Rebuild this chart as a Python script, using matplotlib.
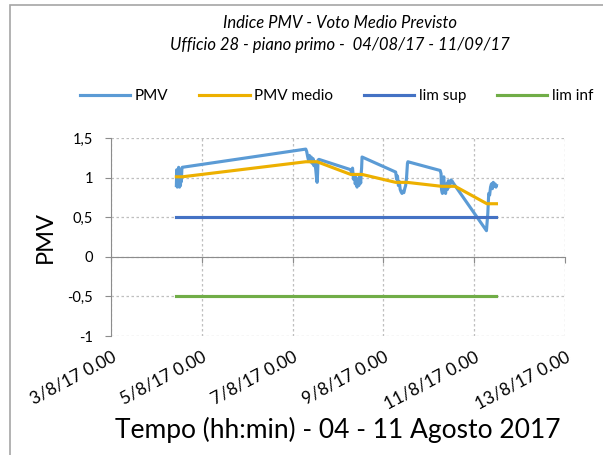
import numpy as np
import pandas as pd
import matplotlib
matplotlib.use('Agg')
import matplotlib.pyplot as plt
import matplotlib.dates as mdates
from matplotlib.ticker import FuncFormatter
from matplotlib.patches import Rectangle

plt.rcParams['font.family'] = ['Lato', 'DejaVu Sans']

base = pd.Timestamp('2017-08-03 00:00')

# PMV misurato (giorni dal 3/8/17 0.00, valore)
pmv_days = [1.44, 1.45, 1.46, 1.47, 1.48, 1.49, 1.50, 1.51, 1.52, 1.53, 1.54, 1.55, 1.56, 1.57,
            4.29, 4.31, 4.33, 4.35, 4.37, 4.39, 4.41, 4.43, 4.45, 4.47, 4.49, 4.51, 4.53, 4.54, 4.55, 4.56, 4.58,
            5.28, 5.30, 5.32, 5.34, 5.36, 5.38, 5.40, 5.42, 5.44, 5.46, 5.48, 5.50, 5.51, 5.52, 5.53,
            6.27, 6.29, 6.31, 6.33, 6.35, 6.37, 6.39, 6.41, 6.43, 6.45, 6.47, 6.49, 6.51, 6.53, 6.54,
            7.25, 7.27, 7.28, 7.30, 7.31, 7.33, 7.35, 7.37, 7.39, 7.41, 7.43, 7.45, 7.47, 7.49, 7.52, 7.54,
            8.27, 8.30, 8.32, 8.34, 8.36, 8.38, 8.40, 8.42, 8.44, 8.46, 8.48, 8.49]
pmv_vals = [0.90, 1.10, 0.88, 1.05, 0.92, 1.13, 0.95, 0.88, 1.02, 0.90, 1.08, 0.95, 1.10, 1.13,
            1.36, 1.33, 1.27, 1.22, 1.28, 1.20, 1.26, 1.18, 1.24, 1.15, 1.20, 1.10, 0.98, 0.94, 1.05, 1.22, 1.23,
            1.10, 1.05, 1.12, 0.98, 1.04, 0.92, 1.00, 0.88, 0.97, 0.90, 1.02, 0.93, 1.05, 1.12, 1.26,
            1.07, 0.98, 1.02, 0.90, 0.95, 0.85, 0.82, 0.80, 0.83, 0.81, 0.86, 0.90, 1.00, 1.18, 1.20,
            1.09, 1.05, 0.85, 0.80, 0.95, 1.01, 0.82, 0.80, 0.92, 0.85, 0.96, 0.88, 0.92, 0.97, 0.95, 0.93,
            0.33, 0.55, 0.80, 0.78, 0.88, 0.92, 0.86, 0.94, 0.89, 0.92, 0.88, 0.90]

# PMV medio giornaliero
med_days = [1.44, 1.57, 4.29, 4.54, 5.28, 5.53, 6.27, 6.52, 7.28, 7.58, 8.28, 8.49]
med_vals = [1.01, 1.01, 1.20, 1.20, 1.04, 1.04, 0.94, 0.94, 0.89, 0.89, 0.67, 0.67]

lim_days = [1.44, 8.49]
lim_sup = [0.5, 0.5]
lim_inf = [-0.5, -0.5]

to_time = lambda d: [base + pd.Timedelta(days=x) for x in d]

fig = plt.figure(figsize=(6.03, 4.55), dpi=100)
ax = fig.add_axes([111/603, 1 - 336/455, (565-111)/603, (336-138)/455])

ax.plot(to_time(pmv_days), pmv_vals, color='#5B9BD5', lw=2.25, label='PMV')
ax.plot(to_time(med_days), med_vals, color='#EDB000', lw=2.25, label='PMV medio')
ax.plot(to_time(lim_days), lim_sup, color='#4472C4', lw=2.25, label='lim sup')
ax.plot(to_time(lim_days), lim_inf, color='#70AD47', lw=2.25, label='lim inf')

ax.set_ylim(-1, 1.5)
ax.set_yticks([-1, -0.5, 0, 0.5, 1, 1.5])
ax.yaxis.set_major_formatter(FuncFormatter(lambda v, p: ('%g' % v).replace('.', ',')))
xmin = mdates.date2num(base)
xmax = mdates.date2num(base + pd.Timedelta(days=10))
ax.set_xlim(xmin, xmax)
xt = [mdates.date2num(base + pd.Timedelta(days=2*i)) for i in range(6)]
ax.set_xticks(xt)

def fmt_date(v, p):
    d = mdates.num2date(v)
    return f"{d.day}/{d.month}/{d.strftime('%y')} {d.hour}.{d.minute:02d}"

ax.grid(True, color='#BFBFBF', ls=(0, (2, 2)), lw=0.9)
for s in ['top', 'right']:
    ax.spines[s].set_visible(False)
ax.spines['left'].set_color('#8C8C8C')
ax.spines['bottom'].set_color('#8C8C8C')
ax.spines['bottom'].set_position(('data', 0))
ax.tick_params(axis='x', labelbottom=False, length=4, color='#8C8C8C')
ax.tick_params(axis='y', length=4, color='#8C8C8C', labelsize=10.5, pad=9)

sec = ax.secondary_xaxis('bottom')
sec.set_xticks(xt)
sec.xaxis.set_major_formatter(FuncFormatter(fmt_date))
sec.spines['bottom'].set_visible(False)
sec.tick_params(length=0, labelsize=12.5, pad=9, labelrotation=28)

ax.set_ylabel('PMV', fontsize=17)
ax.yaxis.set_label_coords(-0.121, 0.5)
sec.set_xlabel('Tempo (hh:min) - 04 - 11 Agosto 2017', fontsize=19, labelpad=4)

fig.text(340/603, 1 - 23/455, 'Indice PMV - Voto Medio Previsto', ha='center', va='center',
         style='italic', fontsize=12)
fig.text(340/603, 1 - 45/455, 'Ufficio 28 - piano primo -  04/08/17 - 11/09/17', ha='center', va='center',
         style='italic', fontsize=12)

fig.legend(loc='center', bbox_to_anchor=(336.5/603, 1 - 96/455), ncol=4, frameon=False,
           fontsize=11, handlelength=3.3, columnspacing=2.0, handletextpad=0.3)

fig.patches.append(Rectangle((10/603, -0.1), 1.2, 1.1 - 5/455, transform=fig.transFigure,
                             fill=False, edgecolor='#A6A6A6', lw=1.2))

fig.canvas.draw()
for lab in sec.get_xticklabels():
    lab.set_ha('right')
    lab.set_rotation_mode('anchor')

fig.savefig('out.png', dpi=100)
